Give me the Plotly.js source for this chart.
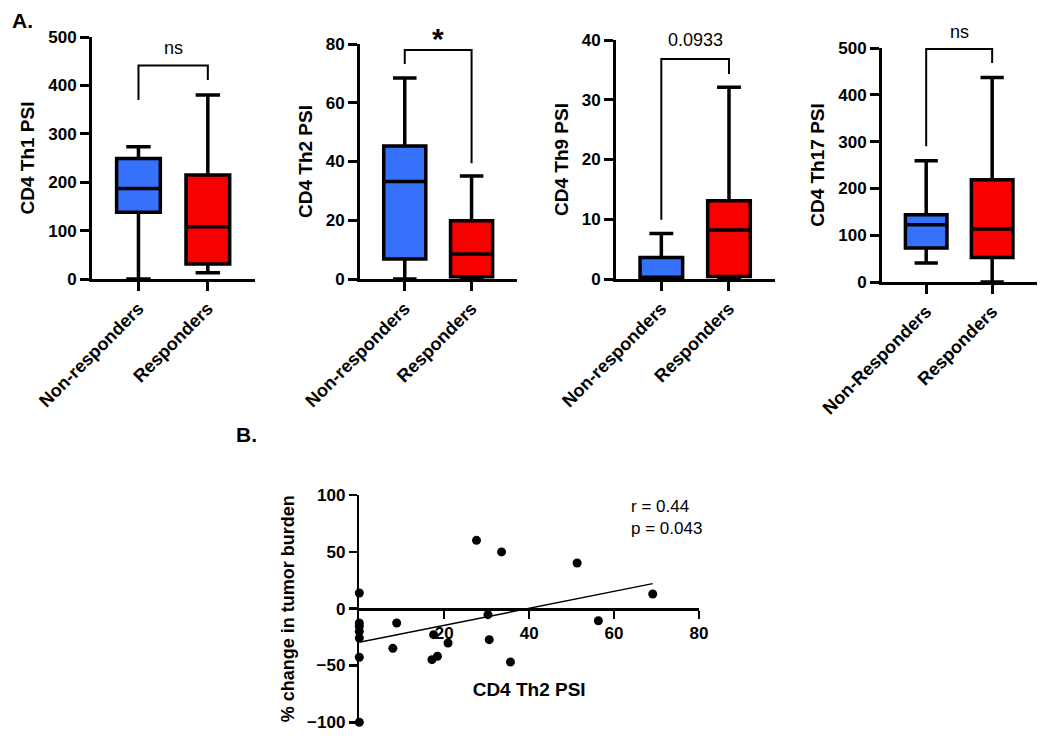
<!DOCTYPE html>
<html>
<head>
<meta charset="utf-8">
<script src="https://cdn.plot.ly/plotly-3.0.1.min.js"></script>
<style>html,body{margin:0;padding:0;background:#fff}#chart{width:1050px;height:744px}</style>
</head>
<body>
<div id="chart"></div>
<script>
// ---------- DATA ----------
const groupsA = ['Non-responders', 'Responders'];
const groupsB = ['Non-Responders', 'Responders'];
// five-number summaries: [min, q1, median, q3, max]
const th1NonResp  = [0, 138, 187, 249, 273];
const th1Resp     = [13, 31, 108, 215, 380];
const th2NonResp  = [0, 6.8, 33.2, 45.3, 68.4];
const th2Resp     = [0, 0.8, 8.5, 19.8, 35.1];
const th9NonResp  = [0, 0, 0.3, 3.6, 7.6];
const th9Resp     = [0, 0.4, 8.2, 13.1, 32.1];
const th17NonResp = [40.6, 72.6, 122.4, 143.8, 259];
const th17Resp    = [0, 52.6, 113, 218.6, 437];
const yTitles = ['CD4 Th1 PSI', 'CD4 Th2 PSI', 'CD4 Th9 PSI', 'CD4 Th17 PSI'];
const yMax = [500, 80, 40, 500];
const yStep = [100, 20, 10, 100];
const sigLabels = ['ns', '*', '0.0933', 'ns'];
// bracket: [top, left leg end, right leg end, label y]
const brackets = [[441, 370, 411, 477], [78, 73.2, 39.4, 82], [36.8, 9.9, 34.3, 40], [498, 290, 468, 534]];

// scatter: CD4 Th2 PSI vs % change in tumor burden
const th2PSI = [0, 0, 0, 0, 0, 0, 0, 8.8, 7.9, 17.5, 17.1, 18.4, 20.9, 27.6, 30.3, 30.6, 33.5, 35.6, 51.3, 56.3, 69.1];
const tumorChange = [13.8, -12.6, -15.5, -20, -25.8, -42.8, -100, -12.6, -34.9, -22.9, -44.9, -41.9, -30.2, 60.1, -5.3, -27.3, 49.9, -46.9, 40.2, -10.6, 12.9];
const fitSlope = 0.747, fitIntercept = -29.6;
const statsText = ['r = 0.44', 'p = 0.043'];

// ---------- LAYOUT HELPERS ----------
const W = 1050, H = 744;
const px = v => v / W, py = v => 1 - v / H;
const FONT = 'Arial, "Liberation Sans", sans-serif';
const BLUE = '#3571FB', RED = '#F90000';

// panel pixel boxes: [left, right, top, bottom]
const panelBox = [[92, 255, 37, 279], [360, 517, 44, 279], [616, 775, 40, 279], [882, 1037, 48, 282]];
const summaries = [[th1NonResp, th1Resp], [th2NonResp, th2Resp], [th9NonResp, th9Resp], [th17NonResp, th17Resp]];
const cats = [groupsA, groupsA, groupsA, groupsB];

const traces = [];
const layout = {
  width: W, height: H,
  margin: {l: 0, r: 0, t: 0, b: 0},
  paper_bgcolor: '#fff', plot_bgcolor: 'rgba(0,0,0,0)',
  showlegend: false,
  font: {family: FONT, color: '#000'},
  shapes: [], annotations: []
};

for (let i = 0; i < 4; i++) {
  const n = i + 1;
  const xa = 'xaxis' + n, ya = 'yaxis' + n;
  const xr = 'x' + n, yr = 'y' + n;
  const b = panelBox[i];
  [0, 1].forEach(g => {
    const s = summaries[i][g];
    traces.push({
      type: 'box', xaxis: xr, yaxis: yr,
      x: [cats[i][g]],
      lowerfence: [s[0]], q1: [s[1]], median: [s[2]], q3: [s[3]], upperfence: [s[4]],
      fillcolor: g === 0 ? BLUE : RED,
      line: {color: '#000', width: 3.5},
      width: 0.63, whiskerwidth: 0.56,
      boxpoints: false, hoverinfo: 'skip'
    });
  });
  layout[xa] = {
    domain: [px(b[0]), px(b[1])], anchor: yr,
    type: 'category', categoryorder: 'array', categoryarray: cats[i],
    range: [-0.67, 1.68],
    showline: true, linewidth: 3, linecolor: '#000',
    ticks: 'outside', ticklen: 9, tickwidth: 3, tickcolor: '#000',
    tickangle: -45,
    tickfont: {family: FONT, size: 18, weight: 'bold', color: '#000'},
    showgrid: false, zeroline: false, fixedrange: true
  };
  layout[ya] = {
    domain: [py(b[3]), py(b[2])], anchor: xr,
    range: [0, yMax[i]], dtick: yStep[i], tick0: 0,
    showline: true, linewidth: 3, linecolor: '#000',
    ticks: 'outside', ticklen: 9, tickwidth: 3, tickcolor: '#000',
    tickfont: {family: FONT, size: 17, weight: 'bold', color: '#000'},
    title: {text: yTitles[i], font: {family: FONT, size: 19, weight: 'bold', color: '#000'}, standoff: 9},
    showgrid: false, zeroline: false, fixedrange: true
  };
  const br = brackets[i];
  layout.shapes.push({
    type: 'path', xref: xr, yref: yr,
    path: `M 0 ${br[1]} L 0 ${br[0]} L 1 ${br[0]} L 1 ${br[2]}`,
    line: {color: '#000', width: 2}
  });
  // label placed in paper space (it may sit above the axis range)
  const bottomF = py(b[3]), topF = py(b[2]);
  const yPaper = bottomF + (br[3] / yMax[i]) * (topF - bottomF);
  const xPaper = px(b[0]) + ((0.5 + 0.67) / (1.68 + 0.67)) * (px(b[1]) - px(b[0]));
  layout.annotations.push({
    xref: 'paper', yref: 'paper', x: xPaper, y: yPaper, text: sigLabels[i],
    showarrow: false, xanchor: 'center', yanchor: 'middle',
    font: sigLabels[i] === '*' ? {family: FONT, size: 30, weight: 'bold', color: '#000'} : {family: FONT, size: 18, color: '#000'}
  });
}

// scatter panel
traces.push({
  type: 'scatter', mode: 'markers', xaxis: 'x5', yaxis: 'y5',
  x: th2PSI, y: tumorChange,
  marker: {color: '#000', size: 9},
  cliponaxis: false, hoverinfo: 'skip'
});
const xMaxFit = Math.max(...th2PSI), xMinFit = Math.min(...th2PSI);
traces.push({
  type: 'scatter', mode: 'lines', xaxis: 'x5', yaxis: 'y5',
  x: [xMinFit, xMaxFit], y: [fitIntercept + fitSlope * xMinFit, fitIntercept + fitSlope * xMaxFit],
  line: {color: '#000', width: 1.5}, cliponaxis: false, hoverinfo: 'skip'
});
layout.xaxis5 = {
  domain: [px(359.3), px(699)], anchor: 'free', position: py(609),
  range: [0, 80], tickvals: [20, 40, 60, 80],
  showline: true, linewidth: 2.5, linecolor: '#000',
  ticks: 'outside', ticklen: 8, tickwidth: 2.5, tickcolor: '#000',
  tickfont: {family: FONT, size: 17, weight: 'bold', color: '#000'},
  title: {text: 'CD4 Th2 PSI', font: {family: FONT, size: 19, weight: 'bold', color: '#000'}, standoff: 40},
  showgrid: false, zeroline: false, fixedrange: true
};
layout.yaxis5 = {
  domain: [py(722.3), py(495)], anchor: 'x5',
  range: [-100, 100], dtick: 50, tick0: 0,
  showline: true, linewidth: 2.5, linecolor: '#000',
  ticks: 'outside', ticklen: 8, tickwidth: 2.5, tickcolor: '#000',
  tickfont: {family: FONT, size: 17, weight: 'bold', color: '#000'},
  title: {text: '% change in tumor burden', font: {family: FONT, size: 18, weight: 'bold', color: '#000'}, standoff: 8},
  showgrid: false, zeroline: false, fixedrange: true
};
layout.annotations.push({
  xref: 'x5', yref: 'y5', x: 63.5, y: 100, text: statsText.join('<br>'),
  showarrow: false, xanchor: 'left', yanchor: 'top', align: 'left',
  font: {family: FONT, size: 17, color: '#000'}
});
// panel letters
layout.annotations.push({xref: 'paper', yref: 'paper', x: px(22), y: py(21), text: 'A.', showarrow: false,
  xanchor: 'center', yanchor: 'middle', font: {family: FONT, size: 21, weight: 'bold', color: '#000'}});
layout.annotations.push({xref: 'paper', yref: 'paper', x: px(246), y: py(434), text: 'B.', showarrow: false,
  xanchor: 'center', yanchor: 'middle', font: {family: FONT, size: 21, weight: 'bold', color: '#000'}});

Plotly.newPlot('chart', traces, layout, {staticPlot: true, displayModeBar: false});
</script>
</body>
</html>
